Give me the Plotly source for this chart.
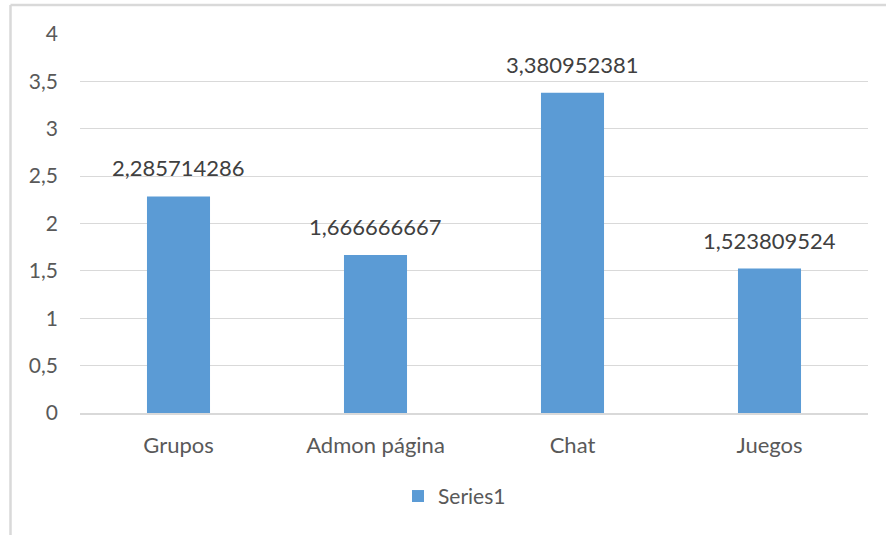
import plotly.graph_objects as go

categories = ["Grupos", "Admon página", "Chat", "Juegos"]
values = [2.285714286, 1.666666667, 3.380952381, 1.523809524]
value_labels = ["2,285714286", "1,666666667", "3,380952381", "1,523809524"]
series_name = "Series1"
y_ticks = [0, 0.5, 1, 1.5, 2, 2.5, 3, 3.5, 4]

FONT = "Lato, 'Open Sans', sans-serif"
TXT = "#595959"

fig = go.Figure()
fig.add_trace(go.Bar(
    x=categories, y=values, name=series_name,
    marker=dict(color="#5B9BD5", line=dict(width=0)),
    hoverinfo="skip",
))

for c, v, t in zip(categories, values, value_labels):
    fig.add_annotation(x=c, y=v, text=t, showarrow=False, yanchor="bottom",
                       yshift=13, font=dict(family=FONT, size=22, color="#404040"))

W, H = 886, 535
L, R, T, B = 80, 18, 34, 122
pw, ph = W - L - R, H - T - B

fig.update_layout(
    width=W, height=H,
    margin=dict(l=L, r=R, t=T, b=B),
    paper_bgcolor="white", plot_bgcolor="white",
    separators=",.",
    bargap=0.68,
    showlegend=True,
    legend=dict(orientation="h", x=(398 - L) / pw, xanchor="left", y=-0.22, yanchor="middle",
                font=dict(family=FONT, size=21, color=TXT), itemwidth=30),
    font=dict(family=FONT, size=21, color=TXT),
    xaxis=dict(showgrid=False, showline=True, linecolor="#d9d9d9", linewidth=1.5,
               ticks="", ticklabelstandoff=12,
               tickfont=dict(family=FONT, size=22, color=TXT)),
    yaxis=dict(range=[0, 4], tickvals=y_ticks, showgrid=True, gridcolor="#d9d9d9",
               gridwidth=1.2, zeroline=False, showline=False, ticks="",
               ticklabelstandoff=21,
               tickfont=dict(family=FONT, size=21, color=TXT)),
)

# chart border (left and top edges visible in reference)
xl = (10.5 - L) / pw
yt = 1 + (T - 5) / ph
yb = 1 + (T - 540) / ph
xr = 1 + (W + 5 - L) / pw
fig.add_shape(type="line", xref="paper", yref="paper", x0=xl, x1=xl, y0=yb, y1=yt,
              line=dict(color="#d9d9d9", width=2.5))
fig.add_shape(type="line", xref="paper", yref="paper", x0=xl, x1=xr, y0=yt, y1=yt,
              line=dict(color="#d9d9d9", width=2.5))

fig.write_html("out.html", config={"displayModeBar": False},
               post_script="document.body.style.margin='0';")
